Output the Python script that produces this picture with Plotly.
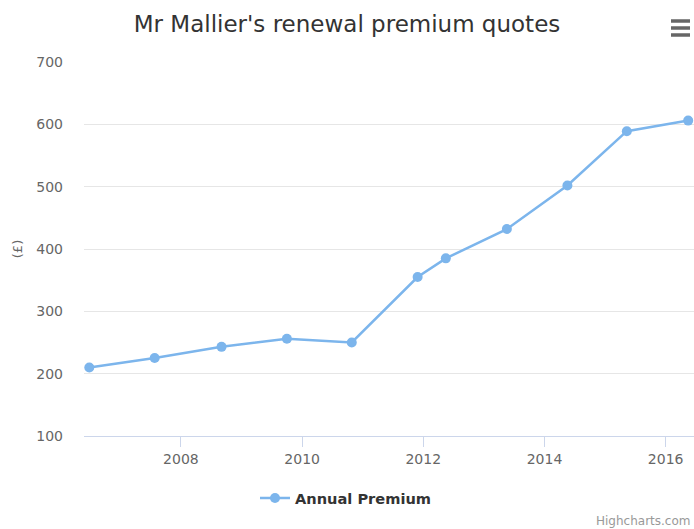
import plotly.graph_objects as go

dates = ["2006-06-28", "2007-07-27", "2008-09-02", "2009-10-01", "2010-10-27",
         "2011-11-28", "2012-05-16", "2013-05-19", "2014-05-19", "2015-05-12", "2016-05-16"]
premium = [210, 225, 243, 256, 250, 355, 385, 432, 502, 589, 606]
series_name = "Annual Premium"
title_text = "Mr Mallier's renewal premium quotes"
y_title = "(£)"

W, H = 694, 529
L, R, T, B = 84, 0, 62, 93

fig = go.Figure()
fig.add_trace(go.Scatter(
    x=dates, y=premium, name=series_name, mode="lines+markers",
    line=dict(color="#7cb5ec", width=2.5),
    marker=dict(color="#7cb5ec", size=10),
))

fig.update_layout(
    width=W, height=H,
    margin=dict(l=L, r=R, t=T, b=B),
    paper_bgcolor="white", plot_bgcolor="white",
    font=dict(family="DejaVu Sans", color="#666666"),
    title=dict(text=title_text, x=0.5, xanchor="center", y=1 - 24 / H, yanchor="middle",
               font=dict(size=23, color="#333333", family="DejaVu Sans")),
    showlegend=True,
    legend=dict(orientation="h", x=(255 - L) / (W - L - R), xanchor="left",
                y=-(498 - (H - B)) / (H - T - B), yanchor="middle",
                font=dict(size=14.6, color="#333333", family="DejaVu Sans", weight="bold"),
                itemwidth=30),
    xaxis=dict(
        type="date", range=["2006-05-27", "2016-06-20"],
        tick0="2008-01-01", dtick="M24", tickformat="%Y",
        ticks="outside", ticklen=10, tickcolor="#ccd6eb", tickwidth=1,
        showline=True, linecolor="#ccd6eb", linewidth=1,
        showgrid=False, zeroline=False,
        tickfont=dict(size=14, color="#666666"),
    ),
    yaxis=dict(
        range=[100, 700], dtick=100, tick0=0,
        showgrid=True, gridcolor="#e6e6e6", gridwidth=1,
        zeroline=False, showline=False,
        ticks="", ticklabelstandoff=20,
        tickfont=dict(size=14, color="#666666"),
        title=dict(text=y_title, font=dict(size=13, color="#666666"), standoff=10),
    ),
    annotations=[
        dict(text="Highcharts.com", xref="paper", yref="paper",
             x=(692 - L) / (W - L - R), xanchor="right", y=-(521 - (H - B)) / (H - T - B),
             yanchor="middle",
             showarrow=False, font=dict(size=12, color="#999999")),
    ],
)

# context menu icon (three bars)
for py in (21, 28, 35):
    fig.add_shape(type="line", xref="paper", yref="paper",
                  x0=(671 - L) / (W - L - R), x1=(690 - L) / (W - L - R),
                  y0=(H - B - py) / (H - T - B), y1=(H - B - py) / (H - T - B),
                  line=dict(color="#666666", width=3.5))

fig.write_html("out.html", config={"displayModeBar": False},
               post_script="document.body.style.margin='0';document.body.style.overflow='hidden';")
